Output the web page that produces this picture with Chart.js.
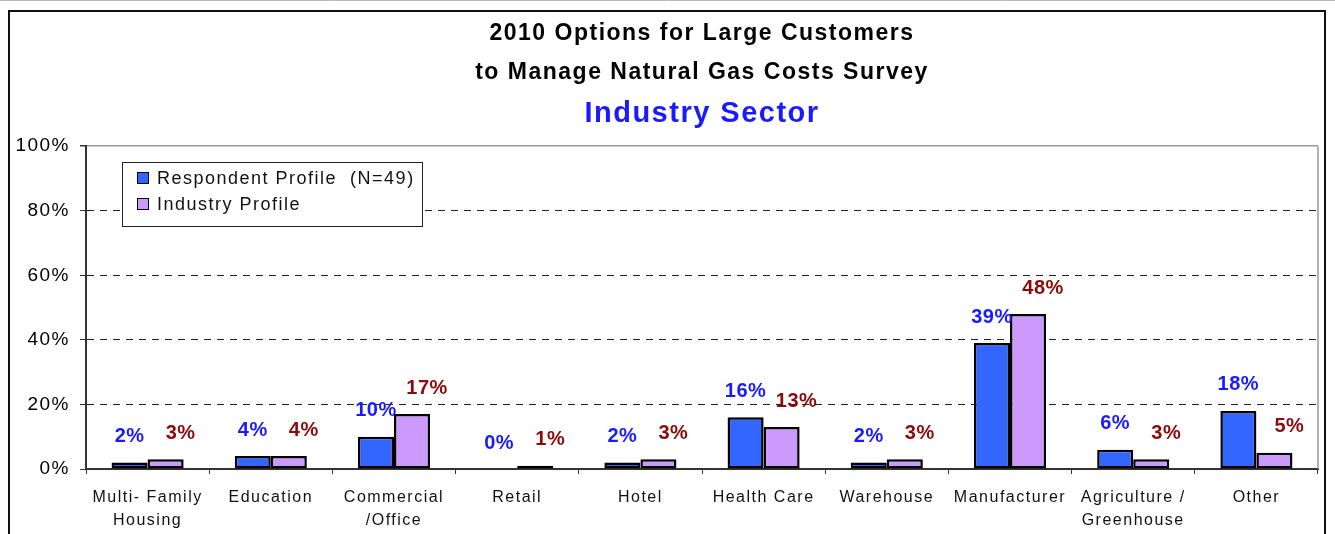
<!DOCTYPE html>
<html>
<head>
<meta charset="utf-8">
<script src="https://cdn.jsdelivr.net/npm/chart.js@4.4.1/dist/chart.umd.min.js"></script>
<style>
  html, body { margin: 0; padding: 0; background: #fff; }
  #wrap { position: relative; width: 1335px; height: 534px; }
</style>
</head>
<body>
<div id="wrap"><canvas id="gasChart"></canvas></div>
<script>
// sector categories (two-line labels as arrays)
const categories = [
    ['Multi- Family', 'Housing'], 'Education', ['Commercial', '/Office'], 'Retail', 'Hotel',
    'Health Care', 'Warehouse', 'Manufacturer', ['Agriculture /', 'Greenhouse'], 'Other'
];
const respondentProfile = [2, 4, 10, 0, 2, 16, 2, 39, 6, 18];
const industryProfile = [3, 4, 17, 1, 3, 13, 3, 48, 3, 5];
const seriesNames = ['Respondent Profile  (N=49)', 'Industry Profile'];
const yTickValues = [0, 20, 40, 60, 80, 100];
const titleLines = ['2010 Options for Large Customers', 'to Manage Natural Gas Costs Survey'];
const subtitleText = 'Industry Sector';

const FONT = "'Liberation Sans', Arial, sans-serif";
const labelColors = ['#1a1aff', '#8b0a0a'];

// outer frame + plot frame (top/right sides)
const framePlugin = {
    id: 'frame',
    beforeDraw(chart) {
        const ctx = chart.ctx;
        // text in this chart is set a little wide
        ctx.letterSpacing = '1.5px';
        ctx.save();
        ctx.strokeStyle = '#bbb';
        ctx.lineWidth = 1;
        ctx.beginPath();
        ctx.moveTo(0, 0.5);
        ctx.lineTo(chart.width, 0.5);
        ctx.stroke();
        ctx.strokeStyle = '#111';
        ctx.lineWidth = 2;
        ctx.strokeRect(9, 11, 1316, 600);
        ctx.restore();
    },
    afterDatasetsDraw(chart) {
        const a = chart.chartArea;
        const ctx = chart.ctx;
        ctx.save();
        ctx.strokeStyle = '#999';
        ctx.lineWidth = 1.5;
        ctx.beginPath();
        ctx.moveTo(a.right, a.top);
        ctx.lineTo(a.right, a.bottom);
        ctx.stroke();
        ctx.restore();
    }
};

// percentage labels above each bar
const valueLabels = {
    id: 'valueLabels',
    afterDatasetsDraw(chart) {
        const ctx = chart.ctx;
        ctx.save();
        ctx.letterSpacing = '0.5px';
        ctx.font = 'bold 20px ' + FONT;
        ctx.textAlign = 'center';
        ctx.textBaseline = 'middle';
        chart.data.datasets.forEach((ds, di) => {
            const meta = chart.getDatasetMeta(di);
            ctx.fillStyle = labelColors[di];
            meta.data.forEach((bar, i) => {
                const shift = di === 1 ? 15 : 0;
                ctx.fillText(ds.data[i] + '%', bar.x + shift, bar.y - 26);
            });
        });
        ctx.restore();
    }
};

// boxed legend inside the plot area
const boxLegend = {
    id: 'boxLegend',
    afterDraw(chart) {
        const ctx = chart.ctx;
        const left = 122, top = 162, w = 300, h = 64;
        ctx.save();
        ctx.fillStyle = '#fff';
        ctx.fillRect(left, top, w, h);
        ctx.strokeStyle = '#222';
        ctx.lineWidth = 1;
        ctx.strokeRect(left + 0.5, top + 0.5, w, h);
        ctx.font = '18px ' + FONT;
        ctx.textBaseline = 'middle';
        chart.data.datasets.forEach((ds, i) => {
            const cy = top + 16 + i * 26;
            ctx.fillStyle = ds.backgroundColor;
            ctx.fillRect(137, cy - 6, 12, 12);
            ctx.strokeStyle = '#000';
            ctx.strokeRect(137.5, cy - 5.5, 11, 11);
            ctx.fillStyle = '#111';
            ctx.fillText(ds.label, 157, cy + 1);
        });
        ctx.restore();
    }
};

new Chart(document.getElementById('gasChart'), {
    type: 'bar',
    data: {
        labels: categories,
        datasets: [{
            label: seriesNames[0],
            data: respondentProfile,
            backgroundColor: '#3366ff',
            borderColor: '#000',
            borderWidth: 2.5,
            borderSkipped: false
        }, {
            label: seriesNames[1],
            data: industryProfile,
            backgroundColor: '#cc99ff',
            borderColor: '#000',
            borderWidth: 2.5,
            borderSkipped: false
        }]
    },
    options: {
        responsive: true,
        maintainAspectRatio: false,
        animation: false,
        categoryPercentage: 0.585,
        barPercentage: 1,
        layout: { padding: { left: 0, right: 17, top: 0, bottom: 0 } },
        plugins: {
            legend: { display: false },
            tooltip: { enabled: false },
            title: {
                display: true,
                fullSize: false,
                text: titleLines,
                color: '#000',
                font: { family: FONT, size: 23, weight: 'bold', lineHeight: 39 / 23 },
                padding: { top: 14, bottom: 0 }
            },
            subtitle: {
                display: true,
                fullSize: false,
                text: subtitleText,
                color: '#1a1aff',
                font: { family: FONT, size: 29, weight: 'bold', lineHeight: 1.2 },
                padding: { top: 4.2, bottom: 15.2 }
            }
        },
        scales: {
            x: {
                grid: { offset: true, drawOnChartArea: false, tickLength: 5, color: '#333', tickColor: '#333' },
                border: { color: '#333', width: 2 },
                ticks: {
                    autoSkip: false, maxRotation: 0, padding: 12, color: '#111',
                    font: { family: FONT, size: 16, lineHeight: 1.45 }
                },
                afterFit(scale) { scale.height = 65; }
            },
            y: {
                min: 0,
                max: 100,
                afterBuildTicks(scale) { scale.ticks = yTickValues.map(v => ({ value: v })); },
                ticks: {
                    padding: 10, color: '#000',
                    font: { family: FONT, size: 19 },
                    callback: v => v + '%'
                },
                grid: {
                    tickLength: 6,
                    tickColor: '#333',
                    color: c => (c.tick && c.tick.value === 100) ? '#999' : '#222',
                    lineWidth: c => (c.tick && c.tick.value === 100) ? 1.5 : 1
                },
                border: {
                    color: '#333', width: 2,
                    dash: c => (c.tick && c.tick.value > 0 && c.tick.value < 100) ? [7, 6] : []
                },
                afterFit(scale) { scale.width = 86; }
            }
        }
    },
    plugins: [framePlugin, valueLabels, boxLegend]
});
</script>
</body>
</html>
